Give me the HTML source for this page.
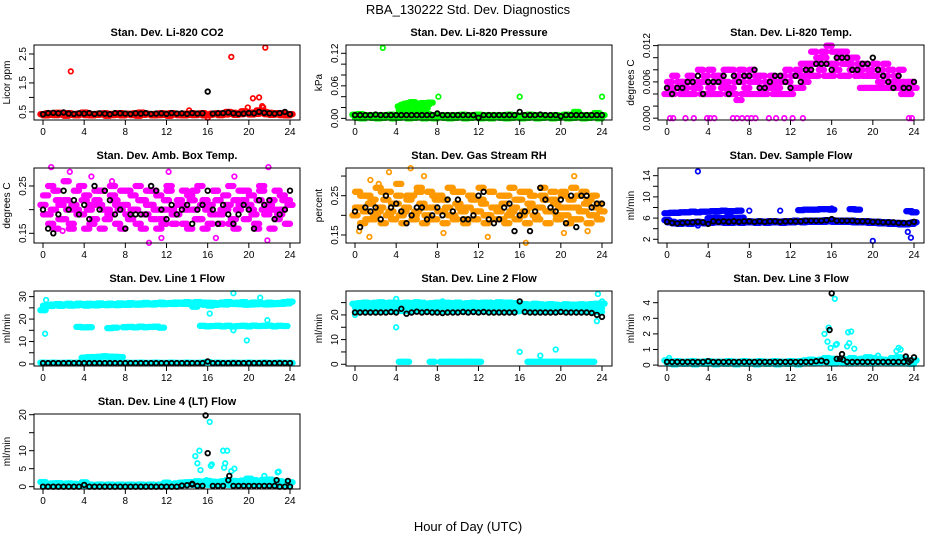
<!DOCTYPE html>
<html><head><meta charset="utf-8"><style>
html,body{margin:0;padding:0;background:#fff;}
svg{display:block;font-family:"Liberation Sans",Arial,sans-serif;}
</style></head>
<body>
<svg id="chart" width="936" height="540" viewBox="0 0 936 540" xmlns="http://www.w3.org/2000/svg">
<rect x="0" y="0" width="936" height="540" fill="#fff"/>
<text x="468" y="14" font-size="13" text-anchor="middle">RBA_130222  Std. Dev. Diagnostics</text>
<text x="468" y="531" font-size="13" text-anchor="middle">Hour of Day (UTC)</text>
</svg>
<script>
const HA=[0,0.5,1,1.5,2,2.5,3,3.5,4,4.5,5,5.5,6,6.5,7,7.5,8,8.5,9,9.5,10,10.5,11,11.5,12,12.5,13,13.5,14,14.5,15,15.5,16,16.5,17,17.5,18,18.5,19,19.5,20,20.5,21,21.5,22,22.5,23,23.5,24];
const HB=[0.25,0.75,1.25,1.75,2.25,2.75,3.25,3.75,4.25,4.75,5.25,5.75,6.25,6.75,7.25,7.75,8.25,8.75,9.25,9.75,10.25,10.75,11.25,11.75,12.25,12.75,13.25,13.75,14.25,14.75,15.25,15.75,16.25,16.75,17.25,17.75,18.25,18.75,19.25,19.75,20.25,20.75,21.25,21.75,22.25,22.75,23.25,23.75];
const xTicks=[0,4,8,12,16,20,24];

// CO2
const co2RedA=[0.42,0.45,0.44,0.47,0.43,0.46,0.42,0.44,0.48,0.43,0.41,0.44,0.45,0.43,0.42,0.46,0.44,0.43,0.45,0.48,0.44,0.42,0.43,0.45,0.44,0.46,0.43,0.42,0.44,0.45,0.43,0.46,0.41,0.44,0.45,0.43,0.5,0.47,0.44,0.52,0.46,0.48,0.55,0.5,0.47,0.45,0.46,0.44,0.42];
const co2RedB=[0.38,0.4,0.39,0.41,0.37,0.4,0.38,0.42,0.39,0.38,0.4,0.41,0.37,0.39,0.4,0.38,0.41,0.39,0.37,0.4,0.42,0.38,0.39,0.4,0.37,0.41,0.39,0.38,0.4,0.39,0.41,0.38,0.4,0.42,0.39,0.41,0.43,0.4,0.42,0.45,0.41,0.43,0.47,0.42,0.4,0.41,0.39,0.38];
const co2OutX=[2.7,18.3,21.6,20.4,21,19.9,21.3,16,14.2,21.4];
const co2OutY=[1.9,2.4,2.72,0.97,1.0,0.65,0.7,0.3,0.55,0.65];
const co2Black=[0.42,0.46,0.47,0.45,0.48,0.44,0.43,0.45,0.44,0.46,0.43,0.45,0.44,0.42,0.46,0.45,0.44,0.43,0.45,0.44,0.46,0.43,0.44,0.45,0.43,0.46,0.44,0.45,0.43,0.46,0.44,0.45,1.2,0.44,0.45,0.46,0.48,0.45,0.43,0.44,0.46,0.45,0.5,0.47,0.45,0.44,0.46,0.5,0.42];
// Pressure
const presGA=[0.007,0.008,0.005,0.006,0.004,0.006,0.005,0.007,0.006,0.005,0.006,0.007,0.005,0.006,0.008,0.005,0.006,0.004,0.006,0.005,0.006,0.007,0.005,0.006,0.007,0.005,0.006,0.004,0.006,0.005,0.007,0.006,0.005,0.006,0.007,0.005,0.006,0.004,0.005,0.006,0.005,0.007,0.006,0.012,0.005,0.006,0.004,0.01,0.006];
const presGB=[0.001,0,0.002,0.001,0,0.001,0.002,0,0.001,0.002,0,0.001,0.002,0,0.001,0,0.002,0.001,0,0.001,0.002,0,0.001,0.002,0,0.001,0,0.002,0.001,0,0.001,0.002,0,0.001,0.002,0,0.001,0.002,0,0.001,0.002,0,0.001,0.003,0,0.001,0.002,0];
const presPatchX=[4.4,4.7,5,5.3,5.6,6,6.3,6.6,7,7.3,4.5,5.2,6.1,6.8];
const presPatchY=[0.022,0.025,0.027,0.028,0.03,0.027,0.02,0.028,0.026,0.029,0.015,0.018,0.016,0.019];
const presOutX=[2.7,8.1,16,24];
const presOutY=[0.13,0.04,0.04,0.04];
const presBlack=[0.006,0.006,0.006,0.006,0.007,0.006,0.006,0.006,0.006,0.006,0.006,0.006,0.006,0.006,0.006,0.006,0.009,0.006,0.006,0.006,0.006,0.006,0.006,0.006,0.001,0.006,0.006,0.006,0.006,0.006,0.006,0.006,0.012,0.006,0.006,0.006,0.007,0.006,0.006,0.006,0.004,0.006,0.006,0.006,0.006,0.006,0.006,0.006,0.006];
// Li-820 temp
const tempMA=[0.004,0.004,0.005,0.004,0.004,0.004,0.005,0.004,0.004,0.004,0.004,0.005,0.004,0.004,0.003,0.004,0.004,0.004,0.004,0.004,0.005,0.004,0.004,0.004,0.004,0.005,0.005,0.006,0.007,0.007,0.008,0.007,0.007,0.008,0.007,0.007,0.008,0.007,0.005,0.005,0.005,0.005,0.005,0.005,0.005,0.005,0.004,0.004,0.005];
const tempMB=[0.006,0.007,0.006,0.006,0.007,0.006,0.008,0.007,0.008,0.007,0.007,0.008,0.008,0.007,0.008,0.007,0.008,0.007,0.007,0.006,0.007,0.006,0.007,0.008,0.007,0.008,0.009,0.009,0.011,0.01,0.011,0.012,0.011,0.011,0.011,0.01,0.01,0.009,0.009,0.008,0.009,0.008,0.009,0.008,0.007,0.008,0.006,0.006];
const tempMC=[0.005,0.005,0.006,0.005,0.006,0.005,0.006,0.006,0.005,0.006,0.006,0.006,0.005,0.006,0.006,0.005,0.006,0.006,0.005,0.005,0.006,0.005,0.006,0.006,0.005,0.007,0.007,0.008,0.009,0.009,0.01,0.009,0.009,0.01,0.009,0.009,0.008,0.008,0.007,0.007,0.007,0.006,0.007,0.006,0.006,0.006,0.005,0.005];
const tempZeroX=[0.3,0.6,1.8,2.6,3.9,4.2,4.6,6.4,6.8,7.3,7.8,8.2,8.6,9.9,10.6,11.4,12.2,13.2,23.5,23.8];
const tempZeroY=[0,0,0,0,0,0,0,0,0,0,0,0,0,0,0,0,0,0,0,0];
const tempBlack=[0.005,0.004,0.005,0.005,0.006,0.006,0.007,0.004,0.006,0.006,0.006,0.007,0.004,0.007,0.006,0.007,0.007,0.008,0.005,0.005,0.006,0.007,0.007,0.006,0.005,0.007,0.006,0.008,0.008,0.009,0.009,0.009,0.008,0.01,0.01,0.01,0.008,0.008,0.009,0.009,0.01,0.008,0.007,0.006,0.005,0.007,0.005,0.005,0.006];
// Amb box
const ambA=[0.21,0.19,0.2,0.22,0.18,0.2,0.21,0.19,0.22,0.2,0.18,0.21,0.2,0.19,0.22,0.2,0.21,0.18,0.2,0.22,0.19,0.21,0.2,0.18,0.22,0.2,0.19,0.21,0.2,0.22,0.18,0.21,0.2,0.19,0.22,0.2,0.21,0.18,0.2,0.22,0.21,0.19,0.22,0.2,0.21,0.2,0.19,0.22,0.21];
const ambB=[0.23,0.17,0.24,0.18,0.22,0.17,0.24,0.19,0.23,0.17,0.22,0.24,0.18,0.23,0.17,0.24,0.19,0.23,0.17,0.22,0.24,0.18,0.23,0.17,0.24,0.19,0.22,0.17,0.23,0.24,0.18,0.22,0.17,0.24,0.19,0.23,0.17,0.22,0.24,0.18,0.23,0.17,0.24,0.19,0.22,0.18,0.23,0.17];
const ambC=[0.19,0.25,0.16,0.21,0.26,0.16,0.2,0.25,0.16,0.21,0.24,0.16,0.2,0.25,0.21,0.16,0.24,0.2,0.25,0.16,0.21,0.24,0.16,0.2,0.25,0.17,0.21,0.24,0.16,0.2,0.25,0.16,0.21,0.24,0.17,0.2,0.25,0.16,0.21,0.24,0.2,0.16,0.25,0.21,0.16,0.24,0.2,0.22];
const ambOutX=[0.8,2.6,4.7,12.2,21.9,10.3,11.5,21.8,1.9,16.8,6.7,18.6];
const ambOutY=[0.29,0.28,0.27,0.28,0.29,0.13,0.14,0.135,0.155,0.14,0.26,0.27];
const ambBlack=[0.2,0.16,0.15,0.19,0.24,0.2,0.22,0.19,0.21,0.18,0.25,0.2,0.24,0.22,0.19,0.2,0.16,0.19,0.19,0.19,0.19,0.25,0.24,0.2,0.18,0.21,0.19,0.2,0.21,0.17,0.2,0.21,0.24,0.2,0.17,0.21,0.19,0.17,0.19,0.21,0.2,0.16,0.22,0.21,0.22,0.18,0.19,0.2,0.24];
// Gas RH
const rhA=[0.2,0.22,0.21,0.23,0.2,0.22,0.24,0.21,0.23,0.2,0.22,0.25,0.21,0.23,0.2,0.22,0.24,0.21,0.22,0.2,0.23,0.21,0.22,0.24,0.21,0.23,0.2,0.22,0.21,0.23,0.2,0.22,0.24,0.21,0.23,0.2,0.22,0.24,0.21,0.23,0.22,0.2,0.24,0.22,0.21,0.23,0.2,0.22,0.21];
const rhB=[0.26,0.18,0.25,0.19,0.27,0.18,0.26,0.19,0.28,0.18,0.25,0.19,0.27,0.18,0.26,0.19,0.25,0.18,0.27,0.19,0.26,0.18,0.25,0.19,0.27,0.18,0.26,0.19,0.25,0.18,0.27,0.19,0.26,0.18,0.25,0.19,0.27,0.18,0.26,0.19,0.25,0.18,0.27,0.19,0.26,0.18,0.25,0.19];
const rhC=[0.22,0.25,0.19,0.24,0.21,0.26,0.2,0.23,0.25,0.21,0.24,0.2,0.26,0.22,0.19,0.25,0.21,0.24,0.2,0.26,0.22,0.19,0.25,0.21,0.24,0.2,0.26,0.22,0.19,0.25,0.21,0.24,0.2,0.26,0.22,0.19,0.25,0.21,0.24,0.2,0.26,0.22,0.19,0.25,0.21,0.24,0.2,0.23];
const rhOutX=[1.5,3.3,5.4,6.7,0.4,1.4,8.6,12.9,16.6,20.3,22.6,21.3,2.3];
const rhOutY=[0.29,0.31,0.32,0.3,0.16,0.145,0.155,0.145,0.13,0.155,0.16,0.3,0.28];
const rhBlack=[0.21,0.17,0.22,0.21,0.22,0.19,0.25,0.22,0.23,0.21,0.18,0.2,0.22,0.22,0.19,0.2,0.22,0.2,0.24,0.21,0.24,0.19,0.19,0.2,0.25,0.26,0.19,0.18,0.19,0.22,0.23,0.16,0.2,0.21,0.16,0.21,0.27,0.24,0.22,0.21,0.24,0.18,0.25,0.17,0.25,0.25,0.22,0.23,0.23];
// Sample flow
const sfUp=[6.9,7.0,7.0,7.1,7.1,7.2,7.1,7.2,7.2,7.3,7.3,7.4,7.3,7.3,7.4,null,null,null,null,null,null,null,null,null,null,null,7.5,7.6,7.6,7.6,7.7,7.7,7.6,null,null,null,7.7,7.6,null,null,null,null,null,null,null,null,null,7.3,7.1];
const sfLowA=[5.6,5.3,5.1,5.2,5.1,5.2,5.3,5.2,5.3,5.4,5.5,5.4,5.3,5.4,5.3,5.4,5.4,5.3,5.4,5.3,5.4,5.4,5.3,5.4,5.4,5.5,5.4,5.5,5.5,5.5,5.5,5.6,5.6,5.5,5.5,5.5,5.5,5.4,5.4,5.4,5.3,5.3,5.2,5.2,5.1,5.1,5.0,5.0,5.2];
const sfLowB=[5.2,5.0,4.9,5.0,4.9,5.0,5.1,5.0,5.1,5.2,5.2,5.1,5.1,5.2,5.1,5.2,5.2,5.1,5.2,5.1,5.2,5.2,5.1,5.2,5.2,5.3,5.2,5.3,5.3,5.3,5.3,5.4,5.3,5.3,5.3,5.3,5.2,5.2,5.2,5.1,5.1,5.0,5.0,4.9,4.9,4.8,4.8,4.9];
const sfMidX=[4.2,4.8,5.4,6,6.6,7.2];
const sfMidY=[6.0,6.1,6.0,6.2,6.0,6.1];
const sfOutX=[3,20,23.4,23.7,8,11,16,3,23.1,23.8,24];
const sfOutY=[14.8,1.7,3.4,2.3,7.4,7.4,7.8,4.6,4.8,7.3,7.1];
const sfBlack=[5.3,5.1,5.0,5.1,5.2,5.2,5.3,5.2,4.9,5.4,5.3,5.4,5.3,5.4,5.3,5.4,5.4,5.3,5.4,5.3,5.4,5.4,5.3,5.4,5.4,5.4,5.4,5.5,5.5,5.5,5.5,5.6,5.8,5.5,5.5,5.5,5.5,5.4,5.4,5.4,5.3,5.3,5.2,5.2,5.2,5.1,5.1,5.1,5.3];
// Line 1
const l1TopA=[24,26,26.5,26.7,26.4,26.8,26.5,26.9,26.6,26.8,26.7,27,26.6,26.9,26.7,27,26.8,27.1,26.9,27,27.2,26.9,27.1,27.3,27,27.2,27.4,27.3,27.5,27.2,27.6,27.4,27.3,27.2,27,27.4,27.6,27.2,27.3,27.5,26.8,27.4,27.2,27,27.3,27.1,27.2,27.5,27.8];
const l1TopB=[26.0,25.8,26.1,25.9,26.2,26.0,26.1,26.3,26.0,26.2,26.1,26.3,26.2,26.4,26.2,26.4,26.3,26.5,26.4,26.5,26.6,26.5,26.7,26.6,26.8,26.7,26.9,26.8,26.7,25.5,26.9,26.4,26.0,26.3,26.6,26.5,26.8,26.7,26.6,26.4,26.5,26.6,26.7,26.5,26.6,26.7,26.8,27.0];
const l1Mid=[null,null,null,null,null,null,null,16.5,16.3,16.4,null,null,null,16,16.2,null,16.4,16.5,16.3,16.6,16.4,16.5,16.6,16.2,null,null,null,null,null,null,null,17,16.8,16.9,17,16.8,17,16.7,16.9,17,16.8,17.1,16.9,17,17.1,16.8,17,16.9,null];
const l1Low=[null,null,null,null,null,null,null,null,2.8,3,3.1,3.2,3.4,3.3,3.2,3.1,null,null,null,null,null,null,null,null,null,null,null,null,null,null,null,null,null,null,null,null,null,null,null,null,null,null,null,null,null,null,null,null,null];
const l1Zero=[0.6,0.5,0.6,0.5,0.5,0.6,0.5,0.6,0.5,0.5,0.6,0.5,0.5,0.6,0.5,0.5,0.6,0.5,0.5,0.6,0.5,0.5,0.6,0.5,0.5,0.6,0.5,0.5,0.6,0.5,0.5,0.6,0.9,0.5,0.6,0.5,0.5,0.6,0.5,0.5,0.6,0.5,0.5,0.6,0.5,0.5,0.6,0.5,0.5];
const l1OutX=[0.2,0.3,18.5,16.2,19.8,21.8,21.1,18.5,0.1];
const l1OutY=[13.5,28.5,31.5,22.5,10.5,19.5,29.5,15,24];
const l1Black=[0.4,0.4,0.4,0.4,0.4,0.4,0.4,0.4,0.4,0.4,0.4,0.4,0.4,0.4,0.4,0.4,0.4,0.4,0.4,0.4,0.4,0.4,0.4,0.4,0.4,0.4,0.4,0.4,0.4,0.4,0.4,0.4,1.1,0.4,0.4,0.4,0.4,0.4,0.4,0.4,0.4,0.4,0.4,0.4,0.4,0.4,0.4,0.4,0.4];
// Line 2
const l2TopA=[24.5,24.8,25,24.7,24.9,25.1,24.8,25,24.9,24.7,25,24.8,25.1,24.9,24.6,24.8,25,24.7,24.9,24.8,25,24.6,24.8,24.9,24.7,24.9,25,24.8,25.1,24.9,25,24.8,24.6,24.4,24.2,24.5,24.3,24.1,24.4,24.2,24,24.3,24.2,24.1,24.3,24.2,24.4,24.5,24.6];
const l2TopB=[23,23.2,23.4,23.1,23.3,23,23.2,23.4,23.1,23.3,23.2,23,23.3,23.1,23.2,23.4,23.1,23.3,23,23.2,23.4,23.1,23.3,23.2,23,23.3,23.1,23.2,23.4,23.1,23.3,23,23.2,23.1,23,23.2,23.1,23,23.2,23.1,23,23.2,23.1,23,23.2,23,22.8,22.6];
const l2C=[21.2,21.6,21.8,21.5,21.7,21.6,21.8,21.5,21.7,21.6,21.8,21.5,21.7,21.6,21.8,21.5,21.7,21.6,21.8,21.5,21.7,21.6,21.8,21.5,21.7,21.6,21.8,21.5,21.7,21.6,21.8,21.5,21.7,21.6,21.8,21.5,21.7,21.6,21.8,21.5,21.7,21.6,21.8,21.5,21.7,21.6,21.4,21.2];
const l2Zero=[null,null,null,null,null,null,null,null,null,1,1,null,null,null,null,1,null,1,1,1,1,1,1,1,1,null,null,null,null,null,null,null,null,null,1,1,1,1,1,1,1,1,1,1,1,1,1,null,null];
const l2OutX=[0,4,4,16,18,19.5,23.5,23.6,24,8.5];
const l2OutY=[20,26.5,15,5,3.5,6,17.5,28.5,25.5,25.5];
const l2Black=[21,21,21,21,21,21,21,21.2,21,22.5,20.5,21,21.3,21,21.2,21,21,20.8,21,21,21,21.2,21,21.2,21,21.2,21,21,21,21,21,21,25.5,21.2,21,21,21,21,21,21,21.2,21,21,21,21,21,20.8,20,19.2];
// Line 3
const l3A=[0.3,0.2,0.25,0.2,0.22,0.25,0.2,0.22,0.25,0.2,0.22,0.2,0.25,0.22,0.2,0.25,0.22,0.2,0.25,0.22,0.2,0.25,0.22,0.2,0.25,0.22,0.25,0.3,0.35,0.3,0.35,0.45,0.4,0.35,0.4,0.3,0.45,0.35,0.4,0.5,0.45,0.4,0.35,0.3,0.45,0.5,0.4,0.3,0.3];
const l3B=[0.1,0.05,0.1,0.08,0.1,0.05,0.1,0.08,0.1,0.05,0.1,0.08,0.1,0.05,0.1,0.08,0.1,0.05,0.1,0.08,0.1,0.05,0.1,0.08,0.1,0.05,0.1,0.15,0.1,0.15,0.2,0.15,0.1,0.2,0.15,0.1,0.15,0.2,0.1,0.15,0.1,0.2,0.15,0.1,0.15,0.1,0.1,0.08];
const l3OutX=[15.3,16.3,15.7,15.6,15.9,17.6,17.9,17.5,17.7,18.2,16.5,16.4,22.5,22.3,19.8,20.5,0.2,22.7];
const l3OutY=[2,4.25,2.4,1.5,1.1,2.1,2.15,1.2,1.4,1.05,1.35,1.3,1.1,0.9,0.5,0.6,0.45,1.0];
const l3Black=[0.2,0.2,0.2,0.2,0.2,0.2,0.2,0.2,0.25,0.2,0.2,0.2,0.2,0.2,0.2,0.2,0.2,0.2,0.2,0.2,0.2,0.2,0.2,0.2,0.2,0.2,0.2,0.2,0.2,0.25,0.28,0.2,4.6,0.4,0.7,0.2,0.2,0.2,0.2,0.2,0.2,0.2,0.2,0.2,0.2,0.2,0.2,0.2,0.5];
const l3BOutX=[15.8,16.8,17.1,23.2,23.7];
const l3BOutY=[2.25,0.4,0.35,0.55,0.3];
// Line 4
const l4A=[1.3,0.8,0.9,1,0.8,0.9,0.8,0.7,1.2,0.6,0.5,0.6,0.5,0.6,0.5,0.6,0.5,0.6,0.5,0.6,0.5,0.6,0.5,0.6,1.1,0.7,0.9,1.1,1.2,1.3,1.5,1.4,1.6,1.4,1.3,1.5,1.8,1.6,1.5,1.7,2.2,1.8,1.6,1.9,2,1.7,1.5,1.3,1.2];
const l4B=[0.2,0.1,0.2,0.1,0.2,0.1,0.2,0.1,0.2,0.1,0.2,0.1,0.2,0.1,0.2,0.1,0.2,0.1,0.2,0.1,0.2,0.1,0.2,0.1,0.2,0.3,0.4,0.5,0.6,0.5,0.7,0.6,0.5,0.6,0.7,0.6,0.5,0.7,0.6,0.8,0.7,0.6,0.7,0.8,0.6,0.7,0.5,0.4];
const l4OutX=[14.8,15.2,15,15.3,16.2,16.3,16.4,17.5,17.9,17.7,17.6,18.3,18.6,21.5,22.8,22.9,12,15.9];
const l4OutY=[8.5,10,6.5,4.6,18,5.8,6.2,10,10,6.5,5.3,4.3,5,3,4,4.2,1.1,1.8];
const l4Black=[0,0,0,0,0,0,0,0,0.5,0,0,0,0,0,0,0,0,0,0,0,0,0,0,0,0,0,0,0.3,0.4,0.6,0.2,0.2,9.3,0.2,0.2,0.2,1.8,0.2,0.2,0.2,0.2,0.2,0.2,0.2,0.2,0.2,0,0,0];
const l4BOutX=[15.8,18.1,22.7,23.8,14.5];
const l4BOutY=[19.8,3,1.8,1.6,0.8];

const MAG="#ff00ff",CY="#00ffff",BK="#000000",OR="#ff9900";
// series entries: [x, y, colour, dense]
const panels=[
 {name:"co2",title:"Stan. Dev. Li-820 CO2",yl:"Licor ppm",col:0,row:0,ymin:0.22,ymax:2.81,ticks:[0.5,1,1.5,2,2.5],labels:[0.5,1.5,2.5],fmt:1,
  series:[[HA,co2RedA,"#ff0000",1],[HB,co2RedB,"#ff0000",1],[co2OutX,co2OutY,"#ff0000",0],[HA,co2Black,BK,0]]},
 {name:"pressure",title:"Stan. Dev. Li-820 Pressure",yl:"kPa",col:1,row:0,ymin:-0.003,ymax:0.1353,ticks:[0,0.02,0.04,0.06,0.08,0.1,0.12],labels:[0,0.06,0.12],fmt:2,
  series:[[HA,presGA,"#00ff00",1],[HB,presGB,"#00ff00",1],[presPatchX,presPatchY,"#00ff00",1],[presOutX,presOutY,"#00ff00",0],[HA,presBlack,BK,0]]},
 {name:"li820-temp",title:"Stan. Dev. Li-820 Temp.",yl:"degrees C",col:2,row:0,ymin:-0.0003,ymax:0.0121,ticks:[0,0.002,0.004,0.006,0.008,0.01,0.012],labels:[0,0.006,0.012],fmt:3,
  series:[[HA,tempMA,MAG,1],[HB,tempMB,MAG,1],[HB,tempMC,MAG,1],[tempZeroX,tempZeroY,MAG,0],[HA,tempBlack,BK,0]]},
 {name:"amb-box-temp",title:"Stan. Dev. Amb. Box Temp.",yl:"degrees C",col:0,row:1,ymin:0.1295,ymax:0.288,ticks:[0.15,0.2,0.25],labels:[0.15,0.25],fmt:2,
  series:[[HA,ambA,MAG,1],[HB,ambB,MAG,1],[HB,ambC,MAG,1],[ambOutX,ambOutY,MAG,0],[HA,ambBlack,BK,0]]},
 {name:"gas-stream-rh",title:"Stan. Dev. Gas Stream RH",yl:"percent",col:1,row:1,ymin:0.1296,ymax:0.3205,ticks:[0.15,0.2,0.25,0.3],labels:[0.15,0.25],fmt:2,
  series:[[HA,rhA,OR,1],[HB,rhB,OR,1],[HB,rhC,OR,1],[rhOutX,rhOutY,OR,0],[HA,rhBlack,BK,0]]},
 {name:"sample-flow",title:"Stan. Dev. Sample Flow",yl:"ml/min",col:2,row:1,ymin:1.3,ymax:15.45,ticks:[2,4,6,8,10,12,14],labels:[2,6,10,14],fmt:0,
  series:[[HA,sfUp,"#0000ff",1],[HA,sfLowA,"#0000ff",1],[HB,sfLowB,"#0000ff",1],[sfMidX,sfMidY,"#0000ff",1],[sfOutX,sfOutY,"#0000ff",0],[HA,sfBlack,BK,0]]},
 {name:"line1-flow",title:"Stan. Dev. Line 1 Flow",yl:"ml/min",col:0,row:2,ymin:-0.9,ymax:32.5,ticks:[0,5,10,15,20,25,30],labels:[0,10,20,30],fmt:0,
  series:[[HA,l1TopA,CY,1],[HB,l1TopB,CY,1],[HA,l1Mid,CY,1],[HA,l1Low,CY,1],[HA,l1Zero,CY,1],[l1OutX,l1OutY,CY,0],[HA,l1Black,BK,0]]},
 {name:"line2-flow",title:"Stan. Dev. Line 2 Flow",yl:"ml/min",col:1,row:2,ymin:-0.7,ymax:29.7,ticks:[0,5,10,15,20,25],labels:[0,10,20],fmt:0,
  series:[[HA,l2TopA,CY,1],[HB,l2TopB,CY,1],[HB,l2C,CY,1],[HA,l2Zero,CY,1],[l2OutX,l2OutY,CY,0],[HA,l2Black,BK,0]]},
 {name:"line3-flow",title:"Stan. Dev. Line 3 Flow",yl:"ml/min",col:2,row:2,ymin:-0.06,ymax:4.75,ticks:[0,1,2,3,4],labels:[0,1,2,3,4],fmt:0,
  series:[[HA,l3A,CY,1],[HB,l3B,CY,1],[l3OutX,l3OutY,CY,0],[HA,l3Black,BK,0],[l3BOutX,l3BOutY,BK,0]]},
 {name:"line4-flow",title:"Stan. Dev. Line 4 (LT) Flow",yl:"ml/min",col:0,row:3,ymin:-0.65,ymax:20.2,ticks:[0,5,10,15,20],labels:[0,5,10,20],fmt:0,
  series:[[HA,l4A,CY,1],[HB,l4B,CY,1],[l4OutX,l4OutY,CY,0],[HA,l4Black,BK,0],[l4BOutX,l4BOutY,BK,0]]}
];
const NS="http://www.w3.org/2000/svg";
const svg=document.getElementById("chart");
function mk(tag,attrs,parent){const e=document.createElementNS(NS,tag);for(const k in attrs)e.setAttribute(k,attrs[k]);(parent||svg).appendChild(e);return e;}
const colL=[34,346,658],rowT=[45,168,291,414],PW=266,PH=75;
const smear=[-2.6,-1.3,0,1.3,2.6];
panels.forEach(p=>{
  const L=colL[p.col],T=rowT[p.row],B=T+PH;
  const g=mk("g",{});
  
  
  const xs=h=>L+9+h*(247/24);
  const ys=v=>B-(v-p.ymin)/(p.ymax-p.ymin)*PH;
  const t=mk("text",{x:L+PW/2,y:T-9,"font-size":"11","font-weight":"bold","text-anchor":"middle"},g);
  t.textContent=p.title;
  
  
  p.series.forEach((s,si)=>{
    const sg=mk("g",{fill:"none",stroke:s[2],"stroke-width":s[2]===BK?"1.8":"1.7"},g);
    
    
    const xa=s[0],ya=s[1];
    for(let i=0;i<ya.length;i++){
      if(ya[i]===null||ya[i]===undefined)continue;
      const cx=xs(xa[i]),cy=ys(ya[i]);
      const offs=s[3]?smear:[0];
      offs.forEach(d=>{
        const c=mk("circle",{cx:(cx+d).toFixed(1),cy:cy.toFixed(1),r:"2.3"},sg);
        
        
      });
    }
  });
  const box=mk("rect",{x:L,y:T,width:PW,height:PH,fill:"none",stroke:"#000","stroke-width":"1"},g);
  
  
  const xa=mk("g",{stroke:"#000","stroke-width":"1"},g);
  
  
  mk("line",{x1:xs(0),y1:B,x2:xs(24),y2:B},xa);
  xTicks.forEach(h=>{
    mk("line",{x1:xs(h),y1:B,x2:xs(h),y2:B+5},xa);
    const tl=mk("text",{x:xs(h),y:B+15,"font-size":"10","text-anchor":"middle",stroke:"none",fill:"#000"},xa);
    tl.textContent=h;
    
    
  });
  const ya=mk("g",{stroke:"#000","stroke-width":"1"},g);
  
  
  mk("line",{x1:L,y1:ys(p.ticks[0]),x2:L,y2:ys(p.ticks[p.ticks.length-1])},ya);
  p.ticks.forEach(v=>{mk("line",{x1:L-5,y1:ys(v),x2:L,y2:ys(v)},ya);});
  p.labels.forEach(v=>{
    const yy=ys(v),xx=L-8;
    const tl=mk("text",{x:xx,y:yy,"font-size":"10","text-anchor":"middle",stroke:"none",fill:"#000",transform:`rotate(-90 ${xx} ${yy})`},ya);
    tl.textContent=p.fmt?v.toFixed(p.fmt):String(v);
    
    
  });
  const yx=L-24,yy=T+PH/2;
  const yt=mk("text",{x:yx,y:yy,"font-size":"10","text-anchor":"middle",transform:`rotate(-90 ${yx} ${yy})`},g);
  yt.textContent=p.yl;
  
  
});
</script>
</body></html>
